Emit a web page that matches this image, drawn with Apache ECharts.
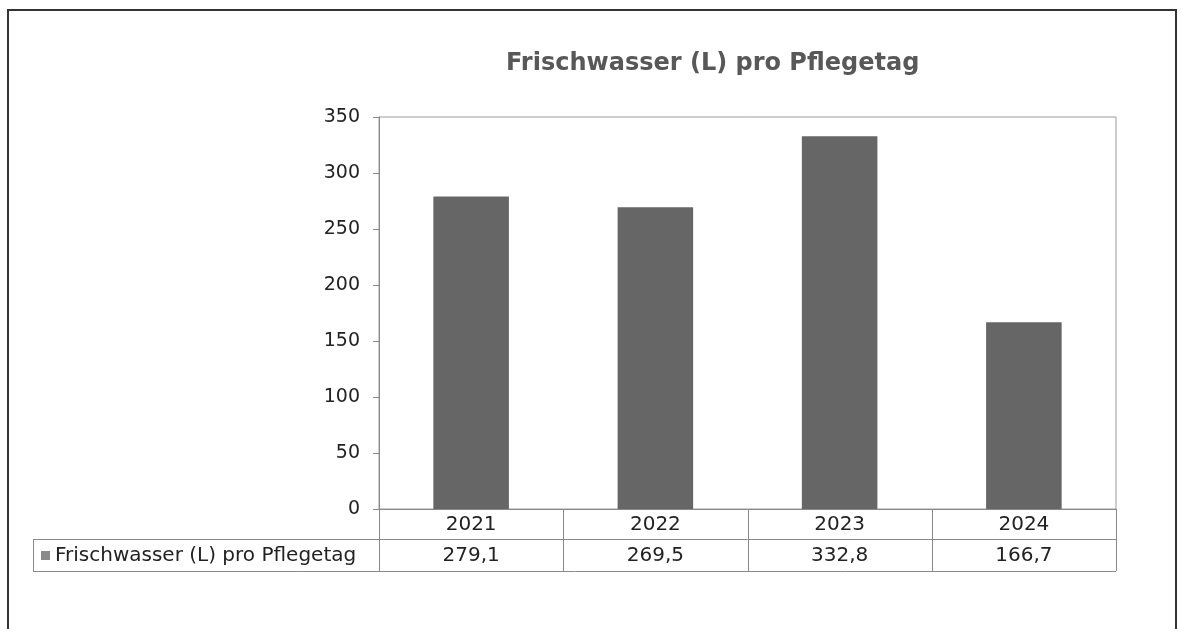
<!DOCTYPE html>
<html>
<head>
<meta charset="utf-8">
<script src="https://cdn.jsdelivr.net/npm/echarts@6/dist/echarts.min.js"></script>
<style>
  html, body { margin: 0; padding: 0; background: #fff; }
  #chart { width: 1181px; height: 629px; }
</style>
</head>
<body>
<div id="chart"></div>
<script>
const titleText = 'Frischwasser (L) pro Pflegetag';
const seriesName = 'Frischwasser (L) pro Pflegetag';
const categories = ['2021', '2022', '2023', '2024'];
const values = [279.1, 269.5, 332.8, 166.7];
const valueLabels = ['279,1', '269,5', '332,8', '166,7'];
const yMin = 0, yMax = 350, yStep = 50;

const FONT = 'DejaVu Sans';
const chart = echarts.init(document.getElementById('chart'), null, { renderer: 'canvas' });

const gridBox = { left: 379, top: 117, right: 65, bottom: 120 };

const baseOption = {
  animation: false,
  backgroundColor: '#ffffff',
  title: {
    text: titleText,
    left: 501,
    top: 47,
    textStyle: { fontFamily: FONT, fontSize: 24, fontWeight: 'bold', color: '#585858' }
  },
  grid: Object.assign({ show: true, borderColor: '#9a9a9a', borderWidth: 1, backgroundColor: 'transparent' }, gridBox),
  xAxis: {
    type: 'category',
    data: categories,
    axisLine: { show: true, lineStyle: { color: '#8a8a8a', width: 1 } },
    axisTick: { show: false },
    axisLabel: { show: false }
  },
  yAxis: {
    type: 'value',
    min: yMin, max: yMax, interval: yStep,
    splitLine: { show: false },
    axisLine: { show: true, lineStyle: { color: '#8a8a8a', width: 1 } },
    axisTick: { show: true, length: 6, lineStyle: { color: '#8a8a8a' } },
    axisLabel: { fontFamily: FONT, fontSize: 19, color: '#222', margin: 19 }
  },
  series: [{
    name: seriesName,
    type: 'bar',
    data: values,
    barWidth: '41%',
    itemStyle: { color: '#666666' }
  }]
};
chart.setOption(baseOption);

// Build the data table under the plot from the axis scale
const gLeft = gridBox.left;
const gRight = 1181 - gridBox.right;
const gBottom = 629 - gridBox.bottom;
const row1Top = gBottom, row1Bot = gBottom + 30;
const row2Top = row1Bot, row2Bot = row2Top + 32;
const tableLeft = 33;
const lineStyle = { stroke: '#8a8a8a', lineWidth: 1 };
const TFS = 20;
const graphics = [];

// outer frame
graphics.push({ type: 'rect', shape: { x: 8, y: 10, width: 1168, height: 700 }, style: { fill: null, stroke: '#333', lineWidth: 2 }, silent: true });

// horizontal lines
graphics.push({ type: 'line', shape: { x1: gLeft, y1: row1Bot + 0.5, x2: gRight, y2: row1Bot + 0.5 }, style: lineStyle });
graphics.push({ type: 'line', shape: { x1: tableLeft, y1: row2Top + 0.5, x2: gLeft, y2: row2Top + 0.5 }, style: lineStyle });
graphics.push({ type: 'line', shape: { x1: tableLeft, y1: row2Bot + 0.5, x2: gRight, y2: row2Bot + 0.5 }, style: lineStyle });
graphics.push({ type: 'line', shape: { x1: tableLeft + 0.5, y1: row2Top, x2: tableLeft + 0.5, y2: row2Bot }, style: lineStyle });

// vertical boundaries & cell texts from category scale
const centers = categories.map((c, i) => chart.convertToPixel({ xAxisIndex: 0 }, c));
const half = centers.length > 1 ? (centers[1] - centers[0]) / 2 : (gRight - gLeft) / 2;
const bounds = [centers[0] - half].concat(centers.map(c => c + half));
bounds.forEach(b => {
  const x = Math.round(b) + 0.5;
  graphics.push({ type: 'line', shape: { x1: x, y1: row1Top, x2: x, y2: row2Bot }, style: lineStyle });
});
categories.forEach((c, i) => {
  graphics.push({ type: 'text', x: centers[i], y: (row1Top + row1Bot) / 2 + 1,
    style: { text: c, fontFamily: FONT, fontSize: TFS, fill: '#222', align: 'center', verticalAlign: 'middle' } });
  graphics.push({ type: 'text', x: centers[i], y: (row2Top + row2Bot) / 2 + 1,
    style: { text: valueLabels[i], fontFamily: FONT, fontSize: TFS, fill: '#222', align: 'center', verticalAlign: 'middle' } });
});
// legend key + series name
graphics.push({ type: 'rect', shape: { x: 41, y: (row2Top + row2Bot) / 2 - 4, width: 9, height: 9 }, style: { fill: '#8a8a8a' } });
graphics.push({ type: 'text', x: 55, y: (row2Top + row2Bot) / 2 + 1,
  style: { text: seriesName, fontFamily: FONT, fontSize: TFS, fill: '#222', align: 'left', verticalAlign: 'middle' } });

chart.setOption({ graphic: { elements: graphics } });
</script>
</body>
</html>
